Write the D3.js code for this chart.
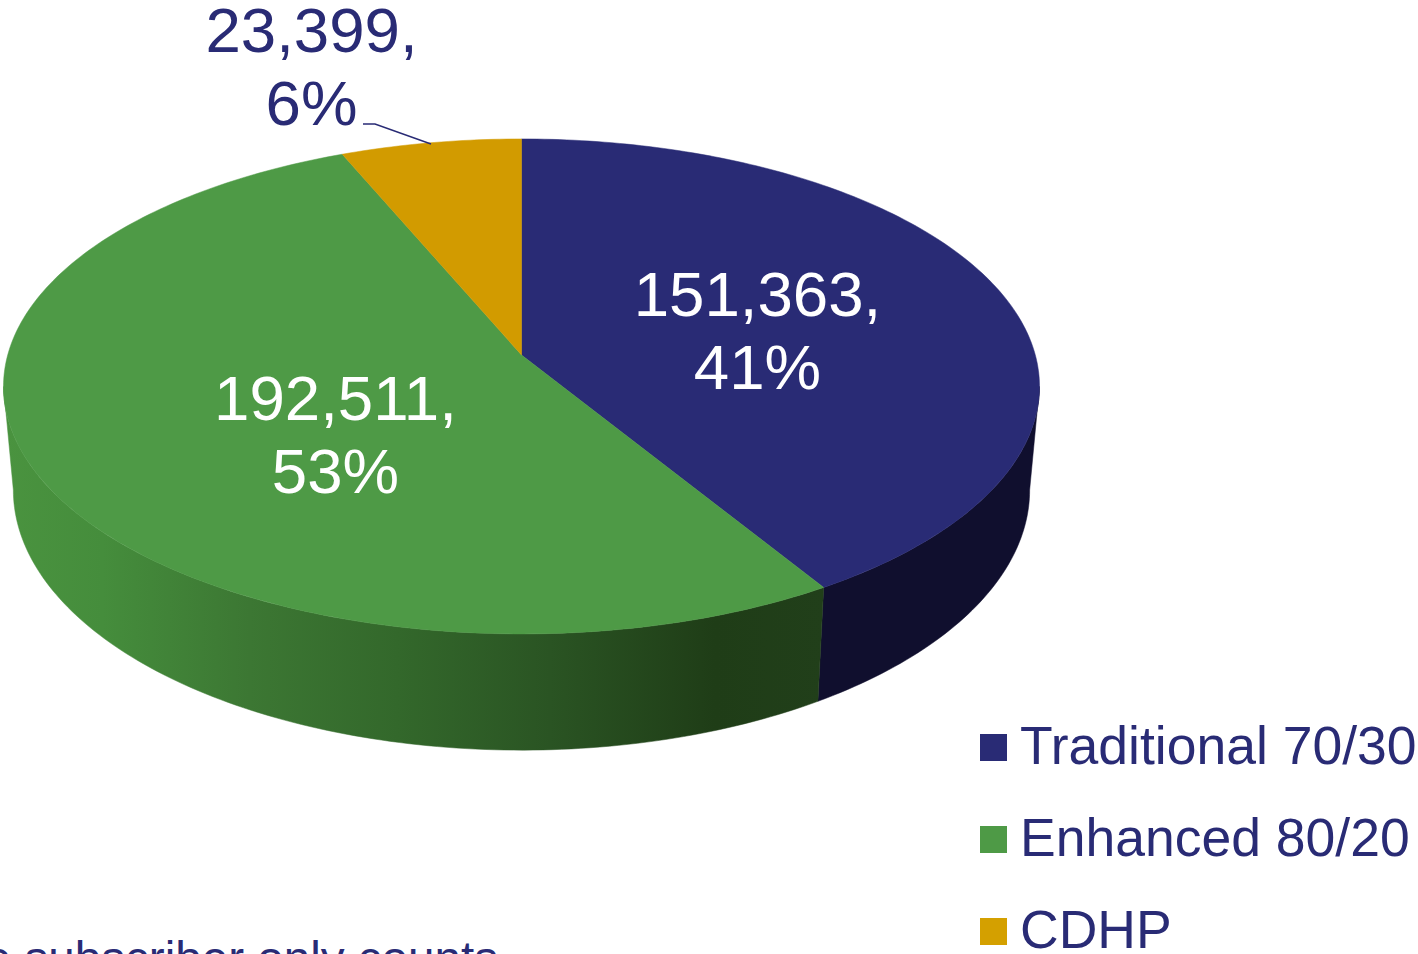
<!DOCTYPE html>
<html>

<head>
    <meta charset="utf-8">
    <title>Subscribers by plan</title>
    <script src="https://d3js.org/d3.v7.min.js"></script>
    <style>
        body {
            margin: 0px;
            overflow: hidden;
            background: #fff;
        }

        text {
            font-family: "Liberation Sans", Arial, sans-serif;
        }

        .label {
            font-size: 63.6px;
            text-anchor: middle;
        }

        .legend-label {
            font-size: 53.5px;
            fill: #292b75;
        }

        .note {
            font-size: 47.6px;
            fill: #292b75;
            text-anchor: end;
        }
    </style>
</head>

<body>
    <svg width="1418" height="954"></svg>
    <script>
        //  Values.
        const categories = ['Traditional 70/30', 'Enhanced 80/20', 'CDHP'];
        const subscribers = [151363, 192511, 23399];
        const percents = ['41%', '53%', '6%'];
        const noteText = 'e subscriber only counts';

        const topColors = ['#292b75', '#4e9a46', '#d29b00'];
        const legendColors = ['#292b75', '#4e9a46', '#d4a000'];
        const labelColors = ['#ffffff', '#ffffff', '#292b75'];

        //  Where the labels sit, centre x and first baseline.
        const labelX = [757.5, 335.5, 311.5];
        const labelY = [316, 420, 52];
        const lineHeight = 73;

        const svg = d3.select('svg');

        //  The disc is a circle seen in perspective, so the near half is taller.
        const tilt = 0.127;          // strength of the perspective
        const centerX = 521.5;
        const topApexY = 355;
        const bottomApexY = 457;
        const radiusX = 513.8;
        const radiusY = 243.5;
        const bottomScaleX = 0.981;  // bottom face is a little narrower
        const bottomScaleY = 1.051;  // and its near edge swings further down

        const uScale = d3.scaleLinear().domain([-1, 1]).range([-radiusX, radiusX]);
        const vScale = d3.scaleLinear().domain([-1, 1]).range([-radiusY, radiusY]);

        //  angle is d3.pie style, 0 at twelve o'clock going clockwise.
        function project(angle, apexY, scaleX, scaleY) {
            const u = Math.sin(angle);
            const v = -Math.cos(angle);
            const w = 1 - tilt * v;
            return [centerX + scaleX * uScale(u) / w, apexY + scaleY * vScale(v) / w];
        }

        function arcPoints(a0, a1, apexY, scaleX, scaleY) {
            const steps = Math.max(2, Math.ceil(Math.abs(a1 - a0) * 60));
            return d3.range(steps + 1).map(i => project(a0 + (a1 - a0) * i / steps, apexY, scaleX, scaleY));
        }

        const pie = d3.pie().sort(null);
        const slices = pie(subscribers);
        const line = d3.line();

        //  Rim only shows between the two points where the outline is widest.
        const rimStart = Math.acos(-tilt);
        const rimEnd = 2 * Math.PI - rimStart;
        const blueEnd = slices[0].endAngle;

        const defs = svg.append('defs');
        const greenWall = defs.append('linearGradient')
            .attr('id', 'greenWall')
            .attr('gradientUnits', 'userSpaceOnUse')
            .attr('x1', 4).attr('x2', 824).attr('y1', 0).attr('y2', 0);
        [[0, '#4a933f'], [0.12, '#458d3c'], [0.3, '#3c7733'], [0.48, '#33682b'], [0.666, '#2a5423'], [0.867, '#1f3d17'], [1, '#213f1a']].forEach(s => {
            greenWall.append('stop').attr('offset', s[0]).attr('stop-color', s[1]);
        });

        function wall(a0, a1, fill) {
            const pts = arcPoints(a0, a1, topApexY, 1, 1)
                .concat(arcPoints(a1, a0, bottomApexY, bottomScaleX, bottomScaleY));
            svg.append('path')
                .attr('d', line(pts) + 'Z')
                .attr('fill', fill)
                .attr('stroke', fill)
                .attr('stroke-width', 0.5);
        }

        wall(rimStart, blueEnd, '#100f2e');
        wall(blueEnd, rimEnd, 'url(#greenWall)');

        //  Top face.
        svg.selectAll('path.slice')
            .data(slices)
            .enter()
            .append('path')
            .attr('class', 'slice')
            .attr('fill', (d, i) => topColors[i])
            .attr('stroke', (d, i) => topColors[i])
            .attr('stroke-width', 0.5)
            .attr('d', d => line([[centerX, topApexY]].concat(arcPoints(d.startAngle, d.endAngle, topApexY, 1, 1))) + 'Z');

        //  Leader line for the small slice.
        svg.append('path')
            .attr('d', line([[363, 124], [375, 124], [431, 144]]))
            .attr('fill', 'none')
            .attr('stroke', '#292b75')
            .attr('stroke-width', 1.5);

        //  Data labels, value on one line and share on the next.
        const fmt = d3.format(',');
        const labels = svg.selectAll('text.label')
            .data(subscribers)
            .enter()
            .append('text')
            .attr('class', 'label')
            .attr('fill', (d, i) => labelColors[i]);
        labels.append('tspan')
            .attr('x', (d, i) => labelX[i])
            .attr('y', (d, i) => labelY[i])
            .text(d => fmt(d) + ',');
        labels.append('tspan')
            .attr('x', (d, i) => labelX[i])
            .attr('y', (d, i) => labelY[i] + lineHeight)
            .text((d, i) => percents[i]);

        //  Legend.
        const legendY = d3.scalePoint().domain(categories).range([734, 918]);
        const legend = svg.selectAll('g.legend')
            .data(categories)
            .enter()
            .append('g')
            .attr('class', 'legend')
            .attr('transform', d => `translate(980,${legendY(d)})`);
        legend.append('rect')
            .attr('width', 27)
            .attr('height', 27)
            .attr('fill', (d, i) => legendColors[i]);
        legend.append('text')
            .attr('class', 'legend-label')
            .attr('x', 40)
            .attr('y', 30)
            .text(d => d);

        //  Footnote runs off the bottom and left of the slide.
        svg.append('text')
            .attr('class', 'note')
            .attr('x', 498)
            .attr('y', 975)
            .text(noteText);
    </script>
</body>

</html>
